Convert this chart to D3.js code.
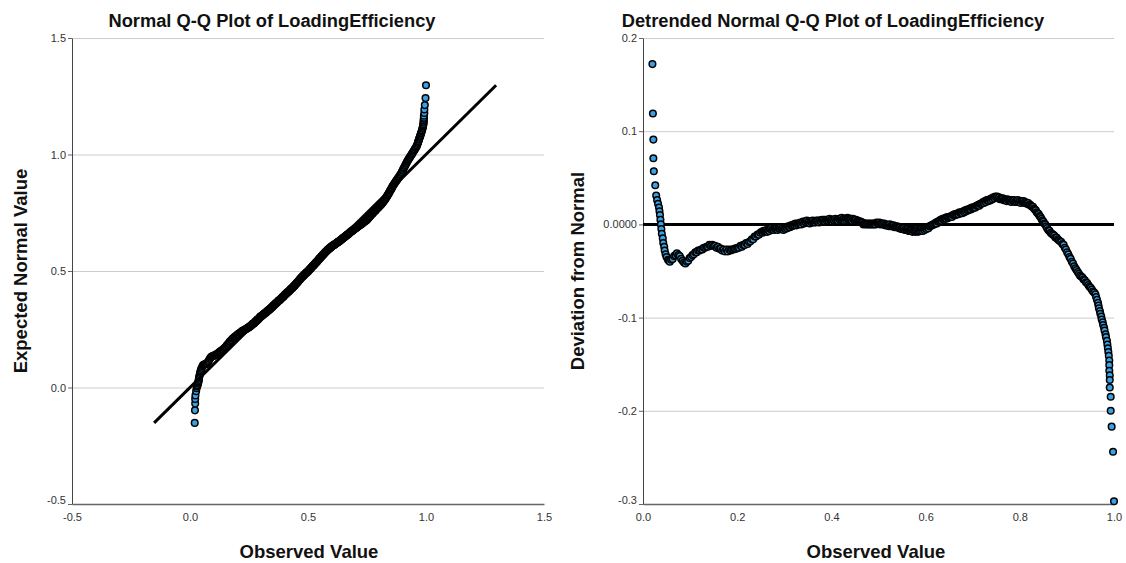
<!DOCTYPE html>
<html><head><meta charset="utf-8">
<script src="https://cdn.jsdelivr.net/npm/d3@7"></script>
<style>
body{margin:0;background:#fff}
svg{display:block}
text{font-family:"Liberation Sans",Arial,sans-serif}
</style>
</head><body>
<svg id="chart" width="1126" height="563"></svg>
<script>
const lowTail = [[0.020,0.172],[0.021,0.119],[0.022,0.091],[0.022,0.071],[0.023,0.057],[0.026,0.042],[0.028,0.031],[0.030,0.026],[0.032,0.022],[0.034,0.018],[0.035,0.014],[0.036,0.010],[0.037,0.005],[0.038,0.000],[0.039,-0.005],[0.040,-0.010],[0.042,-0.015],[0.043,-0.020],[0.045,-0.024],[0.046,-0.028],[0.048,-0.032],[0.050,-0.035],[0.053,-0.038],[0.055,-0.039]];
const lowerBand = [[0.057,-0.040],[0.060,-0.038],[0.063,-0.037],[0.066,-0.034],[0.069,-0.033],[0.072,-0.031],[0.075,-0.033],[0.078,-0.034],[0.081,-0.037],[0.084,-0.039],[0.087,-0.041],[0.090,-0.042],[0.093,-0.040],[0.096,-0.039],[0.099,-0.036],[0.102,-0.035],[0.105,-0.033],[0.108,-0.032],[0.111,-0.030],[0.114,-0.030],[0.117,-0.028],[0.120,-0.028],[0.123,-0.027],[0.126,-0.027],[0.129,-0.025],[0.132,-0.025],[0.135,-0.024],[0.138,-0.024],[0.141,-0.022],[0.144,-0.023],[0.147,-0.022],[0.150,-0.023],[0.153,-0.023],[0.156,-0.025],[0.159,-0.024],[0.162,-0.026],[0.165,-0.026],[0.168,-0.028],[0.171,-0.027],[0.174,-0.029],[0.177,-0.027],[0.180,-0.029],[0.183,-0.027],[0.186,-0.028],[0.189,-0.027],[0.192,-0.027],[0.195,-0.026],[0.198,-0.026],[0.201,-0.025],[0.204,-0.025],[0.207,-0.023],[0.210,-0.024],[0.213,-0.022],[0.216,-0.022],[0.219,-0.020],[0.222,-0.021],[0.225,-0.019],[0.228,-0.018],[0.231,-0.016],[0.234,-0.016],[0.237,-0.013],[0.240,-0.013],[0.243,-0.011],[0.246,-0.011],[0.249,-0.009]];
const middleBand = [
[0.252,-0.008],[0.254,-0.009],[0.256,-0.007],[0.258,-0.008],[0.260,-0.007],
[0.262,-0.006],[0.264,-0.008],[0.266,-0.006],[0.268,-0.007],[0.270,-0.005],
[0.272,-0.004],[0.274,-0.006],[0.276,-0.005],[0.278,-0.006],[0.280,-0.004],
[0.282,-0.005],[0.284,-0.004],[0.286,-0.006],[0.288,-0.004],[0.290,-0.005],
[0.292,-0.003],[0.294,-0.005],[0.296,-0.004],[0.298,-0.006],[0.300,-0.004],
[0.302,-0.005],[0.304,-0.003],[0.306,-0.004],[0.308,-0.002],[0.310,-0.003],
[0.312,-0.003],[0.314,-0.001],[0.316,-0.002],[0.318,-0.001],[0.320,0.000],
[0.322,-0.001],[0.324,0.001],[0.326,-0.001],[0.328,0.001],[0.330,0.000],
[0.332,0.001],[0.334,0.002],[0.336,0.000],[0.338,0.002],[0.340,0.003],
[0.342,0.001],[0.344,0.003],[0.346,0.002],[0.348,0.004],[0.350,0.002],
[0.352,0.003],[0.354,0.001],[0.356,0.003],[0.358,0.002],[0.360,0.004],
[0.362,0.002],[0.364,0.003],[0.366,0.002],[0.368,0.004],[0.370,0.003],
[0.372,0.004],[0.374,0.002],[0.376,0.004],[0.378,0.003],[0.380,0.005],
[0.382,0.004],[0.384,0.005],[0.386,0.003],[0.388,0.005],[0.390,0.004],
[0.392,0.005],[0.394,0.004],[0.396,0.006],[0.398,0.004],[0.400,0.005],
[0.402,0.003],[0.404,0.005],[0.406,0.004],[0.408,0.006],[0.410,0.004],
[0.412,0.005],[0.414,0.004],[0.416,0.006],[0.418,0.005],[0.420,0.006],
[0.422,0.007],[0.424,0.005],[0.426,0.006],[0.428,0.004],[0.430,0.006],
[0.432,0.005],[0.434,0.007],[0.436,0.006],[0.438,0.005],[0.440,0.006],
[0.442,0.006],[0.444,0.004],[0.446,0.006],[0.448,0.005],[0.450,0.004],
[0.452,0.005],[0.454,0.003],[0.456,0.004],[0.458,0.003],[0.460,0.003],
[0.462,0.003],[0.464,0.002],[0.466,0.002],[0.468,0.000],[0.470,0.001],
[0.472,0.001],[0.474,0.000],[0.476,0.001],[0.478,0.000],[0.480,0.001],
[0.482,0.000],[0.484,0.001],[0.486,0.000],[0.488,0.001],[0.490,0.000],
[0.492,0.001],[0.494,0.000],[0.496,0.002],[0.498,0.001],[0.500,0.001],
[0.502,0.002],[0.504,0.000],[0.506,0.001],[0.508,0.001],[0.510,0.000],
[0.512,0.001],[0.514,-0.001],[0.516,0.000],[0.518,-0.001],[0.520,-0.001],
[0.522,-0.002],[0.524,0.000],[0.526,-0.002],[0.528,-0.001],[0.530,-0.002],
[0.532,-0.001],[0.534,-0.003],[0.536,-0.002],[0.538,-0.003],[0.540,-0.002],
[0.542,-0.003],[0.544,-0.004],[0.546,-0.003],[0.548,-0.005],[0.550,-0.004],
[0.552,-0.005],[0.554,-0.004],[0.556,-0.006],[0.558,-0.005],[0.560,-0.006],
[0.562,-0.005],[0.564,-0.007],[0.566,-0.006],[0.568,-0.007],[0.570,-0.006],
[0.572,-0.008],[0.574,-0.006],[0.576,-0.007],[0.578,-0.008],[0.580,-0.007],
[0.582,-0.006],[0.584,-0.008],[0.586,-0.007],[0.588,-0.006],[0.590,-0.007],
[0.592,-0.005],[0.594,-0.007],[0.596,-0.005],[0.598,-0.006],[0.600,-0.004],
[0.602,-0.005],[0.604,-0.003],[0.606,-0.004],[0.608,-0.002],[0.610,-0.002],
[0.612,-0.001],[0.614,-0.001],[0.616,0.000],[0.618,0.000],[0.620,0.001],
[0.622,0.002],[0.624,0.001],[0.626,0.003],[0.628,0.003],[0.630,0.004],
[0.632,0.005],[0.634,0.004],[0.636,0.006],[0.638,0.005],[0.640,0.006],
[0.642,0.007],[0.644,0.006],[0.646,0.008],[0.648,0.007],[0.650,0.008],
[0.652,0.008],[0.654,0.009],[0.656,0.008],[0.658,0.010],[0.660,0.010],
[0.662,0.011],[0.664,0.010],[0.666,0.011],[0.668,0.012],[0.670,0.011],
[0.672,0.013],[0.674,0.012],[0.676,0.013],[0.678,0.012],[0.680,0.014],
[0.682,0.013],[0.684,0.015],[0.686,0.014],[0.688,0.016],[0.690,0.015],
[0.692,0.016],[0.694,0.017],[0.696,0.016],[0.698,0.018],[0.700,0.017],
[0.702,0.018],[0.704,0.019],[0.706,0.018],[0.708,0.020],[0.710,0.020],
[0.712,0.021],[0.714,0.020],[0.716,0.022],[0.718,0.022],[0.720,0.023],
[0.722,0.024],[0.724,0.023],[0.726,0.025],[0.728,0.024],[0.730,0.026],
[0.732,0.026],[0.734,0.025],[0.736,0.027],[0.738,0.026],[0.740,0.028],
[0.742,0.027],[0.744,0.029],[0.746,0.028],[0.748,0.030],[0.750,0.029],
[0.752,0.030],[0.754,0.028],[0.756,0.029],[0.758,0.027],[0.760,0.028],
[0.762,0.027],[0.764,0.028],[0.766,0.026],[0.768,0.027],[0.770,0.026],
[0.772,0.025],[0.774,0.027],[0.776,0.026],[0.778,0.025],[0.780,0.026],
[0.782,0.024],[0.784,0.026],[0.786,0.025],[0.788,0.026],[0.790,0.024],
[0.792,0.025],[0.794,0.024],[0.796,0.026],[0.798,0.024],[0.800,0.025],
[0.802,0.023],[0.804,0.025],[0.806,0.024],[0.808,0.025],[0.810,0.023],
[0.812,0.024],[0.814,0.023],[0.816,0.022],[0.818,0.023],[0.820,0.021],
[0.822,0.021],[0.824,0.020],[0.826,0.019],[0.828,0.019],[0.830,0.017],
[0.832,0.016],[0.834,0.015],[0.836,0.013],[0.838,0.012],[0.840,0.011],
[0.842,0.009],[0.844,0.008],[0.846,0.006],[0.848,0.004],[0.850,0.003],
[0.852,0.001],[0.854,0.000],[0.856,-0.002]];
const upperBand = [[0.8580,-0.004],[0.8605,-0.006],[0.8630,-0.007],[0.8655,-0.009],[0.8680,-0.010],[0.8705,-0.011],[0.8730,-0.012],[0.8755,-0.014],[0.8780,-0.014],[0.8805,-0.016],[0.8830,-0.017],[0.8855,-0.018],[0.8880,-0.019],[0.8905,-0.021],[0.8930,-0.022],[0.8955,-0.025],[0.8980,-0.027],[0.9005,-0.030],[0.9030,-0.032],[0.9055,-0.035],[0.9080,-0.037],[0.9105,-0.040],[0.9130,-0.042],[0.9155,-0.045],[0.9180,-0.047],[0.9205,-0.049],[0.9230,-0.051],[0.9255,-0.053],[0.9280,-0.055],[0.9305,-0.056],[0.9330,-0.057],[0.9355,-0.059],[0.9380,-0.060],[0.9405,-0.062],[0.9430,-0.063],[0.9455,-0.065],[0.9480,-0.067],[0.9505,-0.068],[0.9530,-0.070],[0.9555,-0.072],[0.9580,-0.073],[0.9605,-0.075]];
const highTail = [[0.962,-0.078],[0.964,-0.081],[0.966,-0.084],[0.967,-0.087],[0.968,-0.090],[0.970,-0.093],[0.971,-0.096],[0.973,-0.099],[0.974,-0.102],[0.976,-0.105],[0.977,-0.108],[0.979,-0.111],[0.980,-0.114],[0.982,-0.118],[0.983,-0.121],[0.985,-0.125],[0.986,-0.129],[0.987,-0.133],[0.988,-0.137],[0.989,-0.141],[0.990,-0.146],[0.990,-0.151],[0.990,-0.157],[0.991,-0.162],[0.991,-0.167],[0.991,-0.175],[0.993,-0.185],[0.993,-0.200],[0.995,-0.217],[0.998,-0.244],[1.000,-0.297]];

const leftTicks = [-0.5, 0, 0.5, 1.0, 1.5];
const leftTickLabels = ["-0.5", "0.0", "0.5", "1.0", "1.5"];
const rightXTicks = [0, 0.2, 0.4, 0.6, 0.8, 1.0];
const rightXTickLabels = ["0.0", "0.2", "0.4", "0.6", "0.8", "1.0"];
const rightYTicks = [0.2, 0.1, 0, -0.1, -0.2, -0.3];
const rightYTickLabels = ["0.2", "0.1", "0.0000", "-0.1", "-0.2", "-0.3"];

const titles = ["Normal Q-Q Plot of LoadingEfficiency", "Detrended Normal Q-Q Plot of LoadingEfficiency"];
const xTitles = ["Observed Value", "Observed Value"];
const yTitles = ["Expected Normal Value", "Deviation from Normal"];

// Expected normal value = observed - deviation (SPSS detrended definition)
const points = [].concat(lowTail, lowerBand, middleBand, upperBand, highTail)
  .map(([o, d]) => ({obs: o, dev: d, exp: o - d}));

const svg = d3.select("#chart");
svg.append("rect").attr("width", 1126).attr("height", 563).attr("fill", "#fff");

const FILL = "#3aa2e4", STROKE = "#000", R = 3.3, SW = 1.5;
const GRID = "#cccccc", LABEL = "#333";

function drawPanel(cfg) {
  const {x, y, xt, xl, yt, yl, title, titleX, xTitle, xTitleX, yTitle, yTitleX} = cfg;
  const [x0, x1] = x.range();
  const [yb, ytop] = y.range();
  const g = svg.append("g");

  g.append("g").attr("transform", `translate(${x0},0)`)
    .call(d3.axisLeft(y).tickValues(yt).tickSize(-(x1 - x0)).tickFormat(""))
    .call(s => s.select(".domain").remove())
    .call(s => s.selectAll(".tick line").attr("stroke", GRID).attr("stroke-width", 1));

  g.append("g").attr("transform", `translate(${x0},0)`)
    .call(d3.axisLeft(y).tickValues(yt).tickFormat((d, i) => yl[i]).tickSize(4).tickSizeOuter(0).tickPadding(2))
    .call(s => s.select(".domain").attr("stroke", "#444"))
    .call(s => s.selectAll(".tick line").attr("stroke", "#666"))
    .call(s => s.selectAll(".tick text").attr("fill", LABEL).style("font-size", "11px")
      .attr("dy", d => d === d3.min(yt) ? "-0.05em" : "0.32em"));

  g.append("g").attr("transform", `translate(0,${yb})`)
    .call(d3.axisBottom(x).tickValues(xt).tickFormat((d, i) => xl[i]).tickSize(0).tickSizeOuter(0).tickPadding(9))
    .call(s => s.select(".domain").attr("stroke", "#666").attr("stroke-width", 1.3))
    .call(s => s.selectAll(".tick text").attr("fill", LABEL).style("font-size", "11px"));

  g.append("text").attr("x", titleX).attr("y", 27).attr("text-anchor", "middle")
    .style("font-size", "18.3px").style("font-weight", "bold").attr("fill", "#111").text(title);
  g.append("text").attr("x", xTitleX).attr("y", 558).attr("text-anchor", "middle")
    .style("font-size", "18.5px").style("font-weight", "bold").attr("fill", "#111").text(xTitle);
  g.append("text").attr("transform", `translate(${yTitleX},${(yb + ytop) / 2}) rotate(-90)`)
    .attr("text-anchor", "middle").style("font-size", "18.5px").style("font-weight", "bold")
    .attr("fill", "#111").text(yTitle);
  return g;
}

// Left panel
const lx = d3.scaleLinear().domain([-0.5, 1.5]).range([72, 544]);
const ly = d3.scaleLinear().domain([-0.5, 1.5]).range([504, 38]);
const gl = drawPanel({x: lx, y: ly, xt: leftTicks, xl: leftTickLabels, yt: leftTicks, yl: leftTickLabels,
  title: titles[0], titleX: 272, xTitle: xTitles[0], xTitleX: 309, yTitle: yTitles[0], yTitleX: 27});
gl.append("g").selectAll("circle").data(points).join("circle")
  .attr("cx", d => lx(d.obs)).attr("cy", d => ly(d.exp)).attr("r", R)
  .attr("fill", FILL).attr("stroke", STROKE).attr("stroke-width", SW);
const ext = d3.extent(points, d => d.exp);
gl.append("line").attr("x1", lx(ext[0])).attr("y1", ly(ext[0])).attr("x2", lx(ext[1])).attr("y2", ly(ext[1]))
  .attr("stroke", "#000").attr("stroke-width", 3);

// Right panel
const rx = d3.scaleLinear().domain([0, 1]).range([643, 1114]);
const ry = d3.scaleLinear().domain([-0.3, 0.2]).range([504, 38]);
const gr = drawPanel({x: rx, y: ry, xt: rightXTicks, xl: rightXTickLabels, yt: rightYTicks, yl: rightYTickLabels,
  title: titles[1], titleX: 833, xTitle: xTitles[1], xTitleX: 876, yTitle: yTitles[1], yTitleX: 584});
gr.append("line").attr("x1", rx(0)).attr("x2", rx(1)).attr("y1", ry(0)).attr("y2", ry(0))
  .attr("stroke", "#000").attr("stroke-width", 3);
gr.append("g").selectAll("circle").data(points).join("circle")
  .attr("cx", d => rx(d.obs)).attr("cy", d => ry(d.dev)).attr("r", R)
  .attr("fill", FILL).attr("stroke", STROKE).attr("stroke-width", SW);
</script>
</body></html>
